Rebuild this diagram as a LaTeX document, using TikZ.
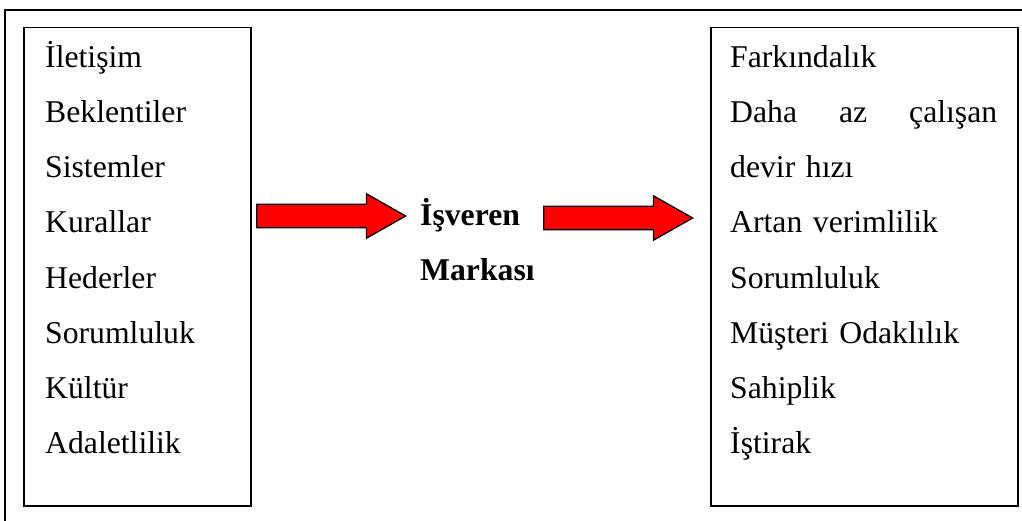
\documentclass[tikz,border=0pt]{standalone}
\usepackage{fontspec}
\setmainfont{Liberation Serif}
\usetikzlibrary{shapes.arrows, positioning}
\tikzset{
  cerceve/.style={draw, line width=1.5pt},
  kutu/.style={draw, line width=1.5pt, anchor=north west, inner sep=0pt},
  metin/.style={anchor=north west, inner sep=0pt, align=left,
    font=\fontsize{31.7}{55.2}\selectfont},
  okucu/.style={single arrow, draw, fill=red, line width=1.3pt, anchor=west,
    minimum height=149pt, minimum width=43pt, inner xsep=0pt, inner ysep=11pt,
    single arrow head extend=10.5pt, single arrow tip angle=59}
}

\begin{document}
\begin{tikzpicture}[x=1pt, y=-1pt]

\clip (0,0) rectangle (1022,521);

% Dis cerceve
\draw[cerceve] (5,10) rectangle (1040,540);

% Sol kutu
\node[kutu, minimum width=227pt, minimum height=478pt] (sol) at (23,27) {};
\node[metin, text width=200pt] (solmetin) at (45,28.4)
{\strut İletişim\\
Beklentiler\\
Sistemler\\
Kurallar\\
Hederler\\
Sorumluluk\\
Kültür\\
Adaletlilik};

% Sag kutu
\node[kutu, minimum width=307pt, minimum height=478pt] (sag) at (710,27) {};
\node[metin, text width=267pt] (sagmetin) at (730,28.4)
{\strut Farkındalık\\
\leavevmode\hbox to 267pt{Daha\hfill az\hfill çalışan}\\
devir hızı\\
Artan verimlilik\\
Sorumluluk\\
Müşteri Odaklılık\\
Sahiplik\\
İştirak};

% Orta
\node[metin, font=\fontsize{31.7}{55}\selectfont\bfseries] (marka) at (420,187)
{\strut İşveren\\
Markası};

% Oklar
\node[okucu] (ok1) at (256,216) {};
\node[okucu] (ok2) at (543,218) {};

\end{tikzpicture}
\end{document}
